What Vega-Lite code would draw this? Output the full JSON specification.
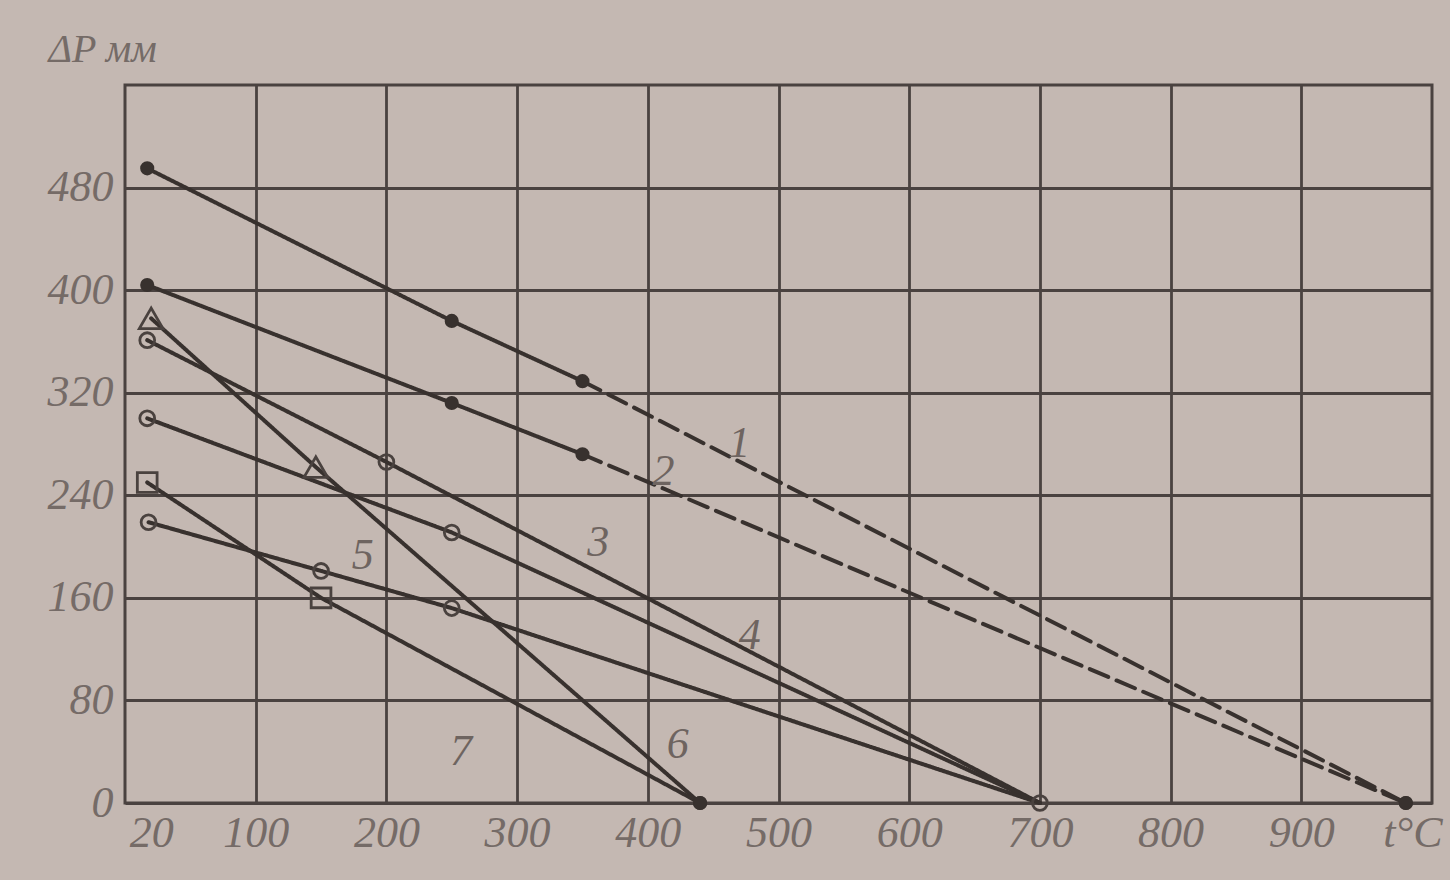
{
  "$schema": "https://vega.github.io/schema/vega-lite/v6.json",
  "width": 1307,
  "height": 718,
  "autosize": {"type": "none"},
  "padding": {"left": 125, "top": 85, "right": 18, "bottom": 77},
  "background": "#c4b8b2",
  "config": {
    "view": {"stroke": "#4a4240", "strokeWidth": 3},
    "axis": {
      "labelFont": "Liberation Sans Narrow",
      "labelFontStyle": "italic",
      "labelFontSize": 44,
      "labelColor": "#756b67",
      "gridColor": "#4a4240",
      "gridWidth": 2.8,
      "gridOpacity": 1,
      "ticks": false,
      "domain": false
    }
  },
  "datasets": {
    "curves": [
      {"line": "1", "part": "1s", "style": "solid", "t": 17, "p": 495, "mk": "dot"},
      {"line": "1", "part": "1s", "style": "solid", "t": 250, "p": 376, "mk": "dot"},
      {"line": "1", "part": "1s", "style": "solid", "t": 350, "p": 329, "mk": "dot"},
      {"line": "1", "part": "1d", "style": "dashed", "t": 350, "p": 329, "mk": "none"},
      {"line": "1", "part": "1d", "style": "dashed", "t": 980, "p": 0, "mk": "dot"},
      {"line": "2", "part": "2s", "style": "solid", "t": 17, "p": 404, "mk": "dot"},
      {"line": "2", "part": "2s", "style": "solid", "t": 250, "p": 312, "mk": "dot"},
      {"line": "2", "part": "2s", "style": "solid", "t": 350, "p": 272, "mk": "dot"},
      {"line": "2", "part": "2d", "style": "dashed", "t": 350, "p": 272, "mk": "none"},
      {"line": "2", "part": "2d", "style": "dashed", "t": 980, "p": 0, "mk": "dot"},
      {"line": "3", "part": "3", "style": "solid", "t": 17, "p": 361, "mk": "circle"},
      {"line": "3", "part": "3", "style": "solid", "t": 200, "p": 266, "mk": "circle"},
      {"line": "3", "part": "3", "style": "solid", "t": 700, "p": 0, "mk": "circle"},
      {"line": "4", "part": "4", "style": "solid", "t": 17, "p": 300, "mk": "circle"},
      {"line": "4", "part": "4", "style": "solid", "t": 250, "p": 211, "mk": "circle"},
      {"line": "4", "part": "4", "style": "solid", "t": 700, "p": 0, "mk": "none"},
      {"line": "5", "part": "5", "style": "solid", "t": 18, "p": 219, "mk": "circle"},
      {"line": "5", "part": "5", "style": "solid", "t": 150, "p": 181, "mk": "circle"},
      {"line": "5", "part": "5", "style": "solid", "t": 250, "p": 152, "mk": "circle"},
      {"line": "5", "part": "5", "style": "solid", "t": 700, "p": 0, "mk": "none"},
      {"line": "6", "part": "6", "style": "solid", "t": 20, "p": 378, "mk": "triangle"},
      {"line": "6", "part": "6", "style": "solid", "t": 146, "p": 262, "mk": "triangle"},
      {"line": "6", "part": "6", "style": "solid", "t": 440, "p": 0, "mk": "dot"},
      {"line": "7", "part": "7", "style": "solid", "t": 17, "p": 250, "mk": "square"},
      {"line": "7", "part": "7", "style": "solid", "t": 150, "p": 160, "mk": "square"},
      {"line": "7", "part": "7", "style": "solid", "t": 440, "p": 0, "mk": "dot"}
    ],
    "labels": [
      {"txt": "1", "t": 470, "p": 280},
      {"txt": "2", "t": 412, "p": 258},
      {"txt": "3", "t": 362, "p": 203},
      {"txt": "4", "t": 478, "p": 130},
      {"txt": "5", "t": 182, "p": 193},
      {"txt": "6", "t": 423, "p": 45},
      {"txt": "7", "t": 257, "p": 40}
    ]
  },
  "layer": [
    {
      "data": {"name": "curves"},
      "mark": {"type": "line", "color": "#38312e", "strokeWidth": 4, "strokeCap": "round"},
      "encoding": {
        "x": {
          "field": "t", "type": "quantitative",
          "scale": {"domain": [0, 1000], "nice": false, "zero": false},
          "axis": {
            "title": null,
            "values": [20, 100, 200, 300, 400, 500, 600, 700, 800, 900, 985],
            "labelExpr": "datum.value == 985 ? 't°C' : datum.label",
            "labelPadding": 8,
            "gridOpacity": {"condition": {"test": "datum.value == 20 || datum.value == 985", "value": 0}, "value": 1}
          }
        },
        "y": {
          "field": "p", "type": "quantitative",
          "scale": {"domain": [0, 560], "nice": false},
          "axis": {
            "values": [0, 80, 160, 240, 320, 400, 480],
            "labelPadding": 12,
            "title": "ΔP мм",
            "titleAngle": 0,
            "titleX": -77,
            "titleY": -36,
            "titleAlign": "left",
            "titleBaseline": "middle",
            "titleFont": "Liberation Sans Narrow",
            "titleFontStyle": "italic",
            "titleFontWeight": "normal",
            "titleFontSize": 40,
            "titleColor": "#756b67"
          }
        },
        "detail": {"field": "part"},
        "strokeDash": {
          "field": "style", "type": "nominal",
          "scale": {"domain": ["solid", "dashed"], "range": [[1, 0], [20, 9]]},
          "legend": null
        }
      }
    },
    {
      "data": {"name": "curves"},
      "transform": [{"filter": "datum.mk == 'dot'"}],
      "mark": {"type": "point", "shape": "circle", "filled": true, "size": 200, "color": "#38312e", "opacity": 1},
      "encoding": {
        "x": {"field": "t", "type": "quantitative"},
        "y": {"field": "p", "type": "quantitative"}
      }
    },
    {
      "data": {"name": "curves"},
      "transform": [{"filter": "datum.mk == 'circle' || datum.mk == 'square' || datum.mk == 'triangle'"}],
      "mark": {"type": "point", "filled": false, "strokeWidth": 2.8, "color": "#4a423f", "opacity": 1},
      "encoding": {
        "x": {"field": "t", "type": "quantitative"},
        "y": {"field": "p", "type": "quantitative"},
        "shape": {
          "field": "mk", "type": "nominal",
          "scale": {"domain": ["circle", "square", "triangle"], "range": ["circle", "square", "triangle-up"]},
          "legend": null
        },
        "size": {
          "field": "mk", "type": "nominal",
          "scale": {"domain": ["circle", "square", "triangle"], "range": [220, 560, 280]},
          "legend": null
        }
      }
    },
    {
      "data": {"name": "labels"},
      "mark": {"type": "text", "font": "Liberation Sans Narrow", "fontStyle": "italic", "fontSize": 44, "color": "#6e6460", "align": "center", "baseline": "middle"},
      "encoding": {
        "x": {"field": "t", "type": "quantitative"},
        "y": {"field": "p", "type": "quantitative"},
        "text": {"field": "txt"}
      }
    }
  ]
}
